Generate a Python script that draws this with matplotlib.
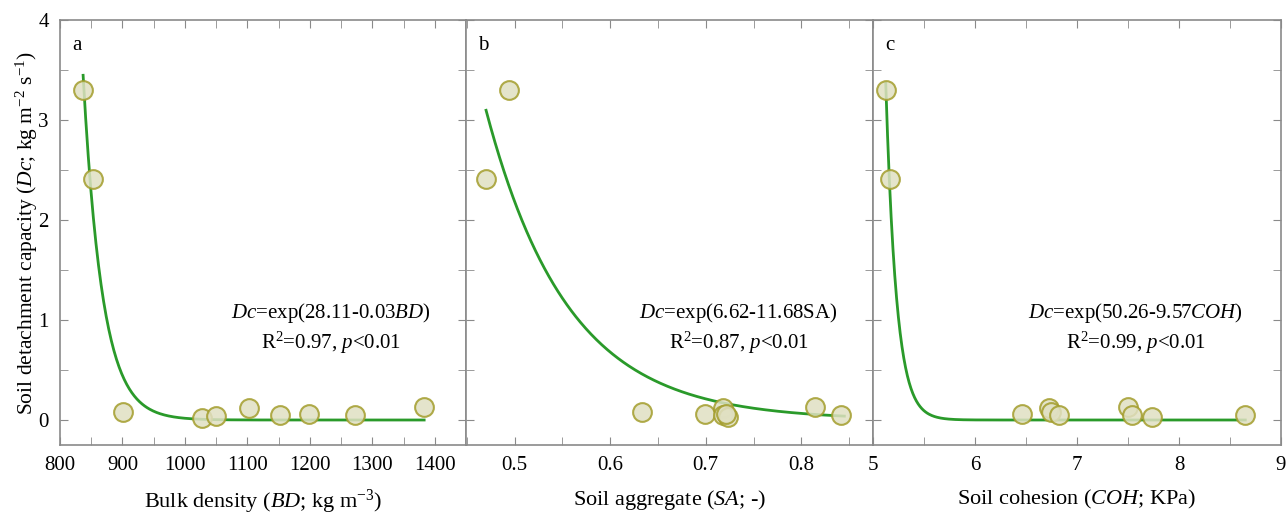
import numpy as np
import matplotlib
matplotlib.use("Agg")
import matplotlib.pyplot as plt
from matplotlib.ticker import MultipleLocator

plt.rcParams["font.family"] = ["Liberation Serif", "DejaVu Serif"]
plt.rcParams["mathtext.fontset"] = "custom"
plt.rcParams["mathtext.rm"] = "Liberation Serif"
plt.rcParams["mathtext.it"] = "Liberation Serif:italic"

# measured data (Dc in kg m-2 s-1)
BD = [837, 853, 901, 1028, 1050, 1103, 1153, 1199, 1273, 1383]
DC_BD = [3.30, 2.41, 0.08, 0.02, 0.04, 0.12, 0.05, 0.06, 0.05, 0.13]

SA = [0.494, 0.470, 0.633, 0.699, 0.718, 0.718, 0.723, 0.721, 0.814, 0.842]
DC_SA = [3.30, 2.41, 0.08, 0.06, 0.12, 0.05, 0.03, 0.06, 0.13, 0.05]

COH = [5.125, 5.164, 6.461, 6.723, 6.746, 6.82, 7.50, 7.54, 7.74, 8.65]
DC_COH = [3.30, 2.41, 0.06, 0.12, 0.08, 0.05, 0.13, 0.05, 0.03, 0.05]

# exponential fits Dc = exp(a - b*x)
FIT_BD = (28.44, 0.0325)
FIT_SA = (6.62, 11.68)
FIT_COH = (50.26, 9.57)

EQ_BD = [r"$\it{Dc}$=exp(28.11-0.03$\it{BD}$)", r"R$^2$=0.97, $\it{p}$<0.01"]
EQ_SA = [r"$\it{Dc}$=exp(6.62-11.68SA)", r"R$^2$=0.87, $\it{p}$<0.01"]
EQ_COH = [r"$\it{Dc}$=exp(50.26-9.57$\it{COH}$)", r"R$^2$=0.99, $\it{p}$<0.01"]

XLABELS = [r"Bulk density ($\it{BD}$; kg m$^{-3}$)",
           r"Soil aggregate ($\it{SA}$; -)",
           r"Soil cohesion ($\it{COH}$; KPa)"]
YLABEL = r"Soil detachment capacity ($\it{Dc}$; kg m$^{-2}$ s$^{-1}$)"

LINE_COLOR = "#2a9a2a"
FACE = "#e0e0c2"
EDGE = "#a39d2c"
SPINE = "#8a8a8a"

fig = plt.figure(figsize=(12.87, 5.17), dpi=100)
W, H = 1287, 517
bounds = [(60, 466), (466, 873), (873, 1281)]
top, bottom = 20, 445

panels = [
    (BD, DC_BD, FIT_BD, EQ_BD, (800, 1450), 100, 50, "a", 0.667, (837, 1383)),
    (SA, DC_SA, FIT_SA, EQ_SA, (0.449, 0.875), 0.1, 0.05, "b", 0.670, (0.470, 0.845)),
    (COH, DC_COH, FIT_COH, EQ_COH, (5, 9), 1, 0.5, "c", 0.644, (5.125, 8.65)),
]

for i, (x, y, fit, eq, xlim, major, minor, tag, eqx, xr) in enumerate(panels):
    l, r = bounds[i]
    ax = fig.add_axes([l / W, 1 - bottom / H, (r - l) / W, (bottom - top) / H])
    xx = np.linspace(xr[0], xr[1], 400)
    ax.plot(xx, np.exp(fit[0] - fit[1] * xx), color=LINE_COLOR, lw=2, zorder=2)
    ax.plot(x, y, "o", ms=13.5, mfc=FACE, mec=EDGE, mew=1.5, alpha=0.85, zorder=3)
    ax.set_xlim(*xlim)
    ax.set_ylim(-0.25, 4)
    ax.xaxis.set_major_locator(MultipleLocator(major))
    ax.xaxis.set_minor_locator(MultipleLocator(minor))
    ax.yaxis.set_major_locator(MultipleLocator(1))
    ax.yaxis.set_minor_locator(MultipleLocator(0.5))
    ax.tick_params(which="both", direction="in", top=True, right=True,
                   color=SPINE, labelsize=15, pad=8)
    ax.tick_params(which="major", length=6)
    ax.tick_params(which="minor", length=6)
    for s in ax.spines.values():
        s.set_color(SPINE)
        s.set_linewidth(1.2)
    if i == 0:
        ax.set_ylabel(YLABEL, fontsize=15.5, labelpad=-1)
    else:
        ax.tick_params(labelleft=False)
    if i == 1:
        ax.set_xticks([0.5, 0.6, 0.7, 0.8])
        ax.set_xticklabels(["0.5", "0.6", "0.7", "0.8"])
    ax.set_xlabel(XLABELS[i], fontsize=16, labelpad=9)
    ax.text(0.03, 0.94, tag, transform=ax.transAxes, fontsize=15, va="center")
    ax.text(eqx, 0.31, eq[0], transform=ax.transAxes, fontsize=15,
            ha="center", va="center")
    ax.text(eqx, 0.24, eq[1], transform=ax.transAxes, fontsize=15,
            ha="center", va="center")

fig.savefig("out.png", dpi=100)
